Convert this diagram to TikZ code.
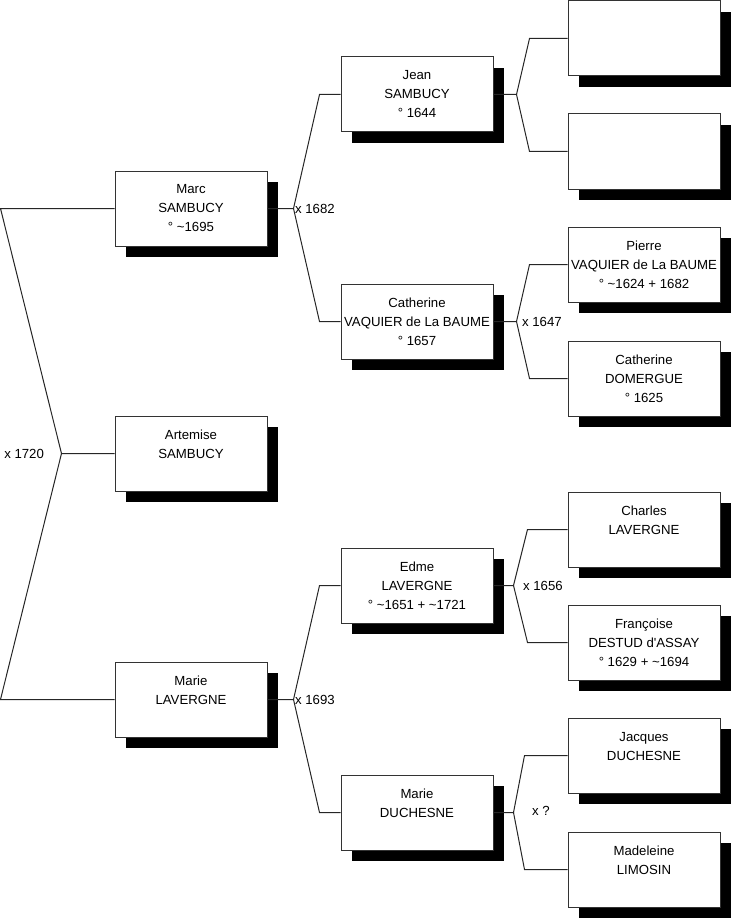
\documentclass[tikz,border=0pt]{standalone}
\usepackage{fontspec}
\setmainfont{Liberation Sans}
\usepackage{tikz}
\usetikzlibrary{calc,shadows}
\tikzset{every node/.append style={font=\fontsize{9.9}{14.25}\selectfont}}
\tikzset{
    person/.style={draw=black!80, fill=white, line width=0.75pt, align=center,
        minimum width=114pt, minimum height=56.25pt, inner sep=0pt,
        drop shadow={shadow xshift=8.25pt, shadow yshift=-8.25pt, fill=black, opacity=1}},
    link/.style={draw=black!85, line width=0.75pt},
    wed/.style={anchor=west, inner sep=1pt}
}

\begin{document}
\begin{tikzpicture}[x=0.75pt, y=-0.75pt]
    \useasboundingbox (0,0) rectangle (731,920);
    % first generation
    \node[person] (marc)     at (191,208.5) {Marc\\SAMBUCY\\° \textasciitilde1695};
    \node[person] (artemise) at (191,453.5) {Artemise\\SAMBUCY\\\mbox{}};
    \node[person] (marie)    at (191,699.5) {Marie\\LAVERGNE\\\mbox{}};
    % second generation
    \node[person] (jean)      at (417,94.5)  {Jean\\SAMBUCY\\° 1644};
    \node[person] (catherine) at (417,321.5) {Catherine\\VAQUIER de La BAUME\\° 1657};
    \node[person] (edme)      at (417,585.5) {Edme\\LAVERGNE\\° \textasciitilde1651 + \textasciitilde1721};
    \node[person] (duchesne)  at (417,812.5) {Marie\\DUCHESNE\\\mbox{}};
    % third generation
    \node[person] (ja)        at (644,38.5)  {};
    \node[person] (jb)        at (644,151.5) {};
    \node[person] (pierre)    at (644,264.5) {Pierre\\VAQUIER de La BAUME\\° \textasciitilde1624 + 1682};
    \node[person] (domergue)  at (644,378.5) {Catherine\\DOMERGUE\\° 1625};
    \node[person] (charles)   at (644,529.5) {Charles\\LAVERGNE\\\mbox{}};
    \node[person] (francoise) at (644,642.5) {Françoise\\DESTUD d\textquotesingle ASSAY\\° 1629 + \textasciitilde1694};
    \node[person] (jacques)   at (644,755.5) {Jacques\\DUCHESNE\\\mbox{}};
    \node[person] (madeleine) at (644,869.5) {Madeleine\\LIMOSIN\\\mbox{}};

    % parents of Artemise
    \coordinate (r0) at ($(artemise.west)+(-53,0)$);
    \draw[link] (marc.west) -- ++(-114,0) -- (r0) -- (artemise.west);
    \draw[link] (r0) -- ($(marie.west)+(-114,0)$) -- (marie.west);
    \node[anchor=east, inner sep=1pt] (w0) at ($(r0)+(-16,0)$) {x 1720};

    % forks to the parents
    \foreach \p/\a/\b/\s/\e in {marc/jean/catherine/26/21, marie/edme/duchesne/26/21,
        jean/ja/jb/23/38, catherine/pierre/domergue/23/38,
        edme/charles/francoise/20/40, duchesne/jacques/madeleine/20/43} {
        \coordinate (f-\p) at ($(\p.east)+(\s,0)$);
        \draw[link] (\p.east) -- (f-\p) -- ($(\a.west)+(-\e,0)$) -- (\a.west);
        \draw[link] (f-\p) -- ($(\b.west)+(-\e,0)$) -- (\b.west);
    }

    % weddings
    \node[wed] (w1) at (f-marc) {x 1682};
    \node[wed] (w2) at (f-marie) {x 1693};
    \node[wed] (w3) at ($(f-catherine)+(4,0)$) {x 1647};
    \node[wed] (w4) at ($(f-edme)+(8,0)$) {x 1656};
    \node[wed] (w5) at ($(f-duchesne)+(17,-2)$) {x ?};
\end{tikzpicture}
\end{document}
